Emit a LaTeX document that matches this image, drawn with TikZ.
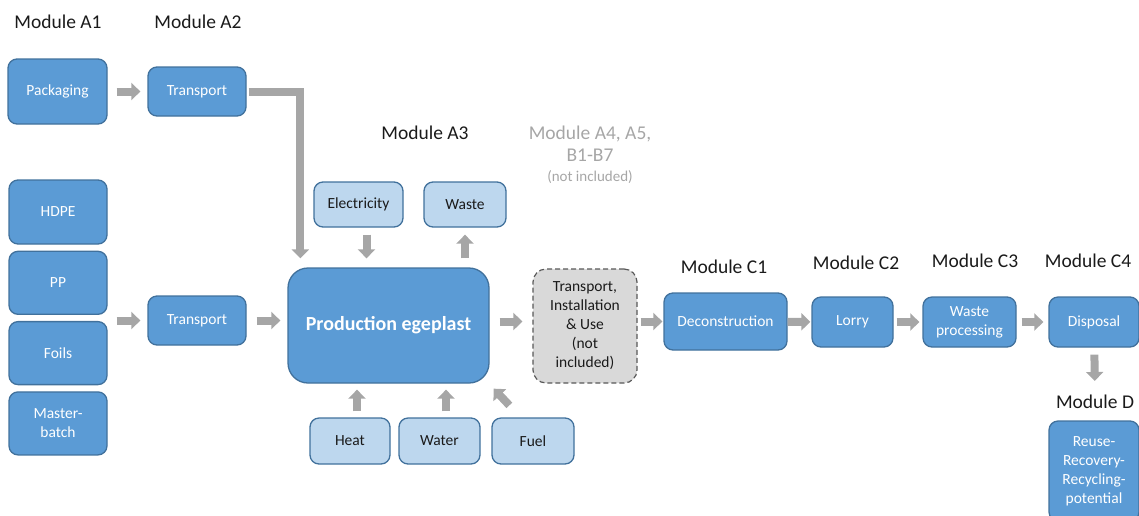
\documentclass[tikz,border=0pt]{standalone}
\usepackage{fontspec}
\setmainfont{Carlito}
\usetikzlibrary{arrows.meta, positioning}

\definecolor{boxblue}{HTML}{5B9BD5}
\definecolor{boxline}{HTML}{41719C}
\definecolor{lightblue}{HTML}{BDD7EE}
\definecolor{arrowgrey}{HTML}{A6A6A6}
\definecolor{dashfill}{HTML}{D9D9D9}
\definecolor{dashline}{HTML}{595959}
\definecolor{greytext}{HTML}{A6A6A6}
\definecolor{darktext}{HTML}{1A1A1A}

\tikzset{
  box/.style={draw=boxline, line width=1.3pt, fill=boxblue, text=white,
    rounded corners=9pt, align=center, inner sep=1pt,
    font=\fontsize{15.5}{19}\selectfont},
  input/.style={box, fill=lightblue, text=darktext},
  module/.style={font=\fontsize{19.5}{22}\selectfont, text=darktext, inner sep=0pt, align=center},
  flow/.style={draw=arrowgrey, line width=8pt, -{Triangle[length=9pt,width=17pt]}},
  sz/.style 2 args={minimum width=#1pt, minimum height=#2pt},
}

\begin{document}
\begin{tikzpicture}[x=1pt, y=-1pt]
   \useasboundingbox (0,0) rectangle (1139,515);

   % module labels
   \node[module] (mA1) at (58,22)  {Module A1};
   \node[module] (mA2) at (198,22) {Module A2};
   \node[module] (mA3) at (425,133) {Module A3};
   \node[module, text=greytext] (mA4) at (590,144) {Module A4, A5,\\B1-B7};
   \node[module, text=greytext, font=\fontsize{15}{18}\selectfont] (nincl) at (590,177) {(not included)};
   \node[module] (mC1) at (724,267)  {Module C1};
   \node[module] (mC2) at (856,263)  {Module C2};
   \node[module] (mC3) at (975,261)  {Module C3};
   \node[module] (mC4) at (1088,261) {Module C4};
   \node[module] (mD)  at (1095,402) {Module D};

   % A1 / A2
   \node[box, sz={99}{65}] (pack) at (57.5,91.5) {Packaging};
   \node[box, sz={98}{49}] (tra)  at (197,91.5)  {Transport};
   \node[box, sz={98}{64}] (hdpe) at (58,212)    {HDPE};
   \node[box, sz={98}{63}] (pp)    [below=6pt of hdpe]  {PP};
   \node[box, sz={98}{63}] (foils) [below=6pt of pp]    {Foils};
   \node[box, sz={98}{63}] (mb)    [below=6pt of foils] {Master-\\batch};
   \node[box, sz={98}{49}] (trb)  at (197,320.5) {Transport};

   % A3
   \node[box, sz={201}{115}, rounded corners=20pt,
         font=\fontsize{20}{24}\selectfont\bfseries] (prod) at (388.5,325.5) {Production egeplast};
   \node[input, sz={89}{45}] (elec)  at (358.5,204.5) {Electricity};
   \node[input, sz={82}{45}] (waste) at (465,204.5)   {Waste};
   \node[input, sz={80}{46}] (heat)  at (350,441)     {Heat};
   \node[input, sz={81}{46}] (water) at (439.5,441)   {Water};
   \node[input, sz={82}{46}] (fuel)  at (533,441)     {Fuel};

   % A4-B7
   \node[box, sz={104}{114}, fill=dashfill, draw=dashline, text=darktext, line width=1.2pt,
         dash pattern=on 5pt off 3pt, rounded corners=13pt] (tnu) at (585,326)
         {Transport,\\Installation\\\& Use\\(not\\included)};

   % C / D
   \node[box, sz={123}{57}] (decon) at (725.5,321.5) {Deconstruction};
   \node[box, sz={81}{50}]  (lorry) at (852.5,322)   {Lorry};
   \node[box, sz={93}{50}]  (wproc) at (969.5,322)   {Waste\\processing};
   \node[box, sz={90}{50}]  (disp)  at (1094,322)    {Disposal};
   \node[box, sz={90}{100}] (reuse) at (1094,471)    {Reuse-\\Recovery-\\Recycling-\\potential};

   % flows
   \draw[flow, shorten <=9pt, shorten >=7pt] (pack) -- (tra);
   \draw[flow, line join=miter, shorten >=9pt] ([xshift=2pt]tra.east) -| ([xshift=13pt]prod.north west);
   \draw[flow, shorten <=9pt, shorten >=7pt] (pp.east |- trb.west) -- (trb.west);
   \draw[flow, shorten <=10pt, shorten >=7pt] (trb) -- (trb -| prod.west);
   \draw[flow, shorten <=7pt, shorten >=9pt] ([xshift=8pt]elec.south) -- ([xshift=8pt]elec.south |- prod.north);
   \draw[flow, shorten <=9pt, shorten >=7pt] (waste.south |- prod.north) -- (waste.south);
   \draw[flow, shorten <=6pt, shorten >=6pt] ([xshift=7pt]heat.north) -- ([xshift=7pt]heat.north |- prod.south);
   \draw[flow, shorten <=6pt, shorten >=6pt] ([xshift=6.5pt]water.north) -- ([xshift=6.5pt]water.north |- prod.south);
   \draw[flow] ([xshift=18pt,yshift=12pt]fuel.north west) -- ([xshift=4pt,yshift=-5pt]prod.south east);
   \draw[flow, shorten <=10pt, shorten >=10pt] (prod.east |- decon) -- (tnu.west |- decon);
   \draw[flow, shorten <=3pt, shorten >=1pt] (tnu.east |- decon) -- (decon.west);
   \draw[flow, shorten >=1pt] (decon) -- (lorry);
   \draw[flow, shorten <=3pt, shorten >=3pt] (lorry) -- (wproc);
   \draw[flow, shorten <=5pt, shorten >=5pt] (wproc) -- (disp);
   \draw[flow, shorten <=7pt, shorten >=14pt] (disp) -- (mD);
\end{tikzpicture}
\end{document}
